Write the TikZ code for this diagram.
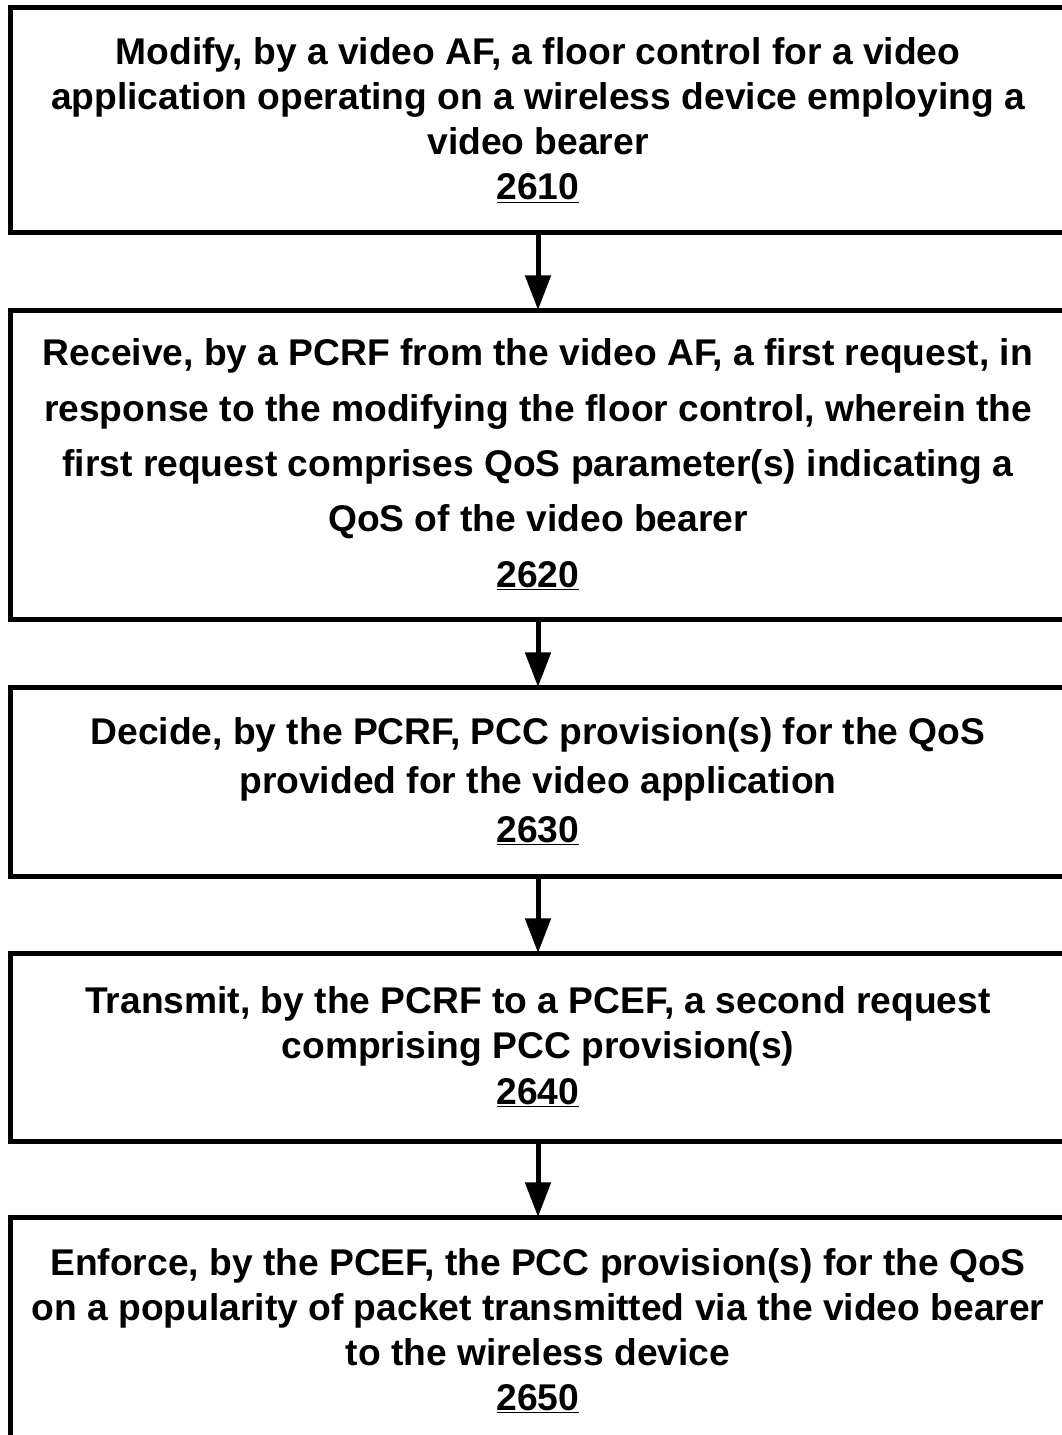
\documentclass[tikz,border=0pt]{standalone}
\usepackage{fontspec}
\setmainfont{Liberation Sans}
\usetikzlibrary{arrows.meta}
\begin{document}
\begin{tikzpicture}[x=0.75pt,y=0.75pt,
  stepbox/.style={draw, line width=3.75pt, rectangle, minimum width=792pt,
    outer sep=0pt, inner sep=0pt, align=center, anchor=north,
    font=\bfseries\fontsize{27.9pt}{33.75pt}\selectfont},
  flow/.style={line width=3.75pt, -{Triangle[width=18.75pt,length=26pt]}}]
\useasboundingbox (0,0) rectangle (1061,-1435);
\node[stepbox, minimum height=169.1pt] (b1) at (538,-7.5)
  {Modify, by a video AF, a floor control for a video\\
   application operating on a wireless device employing a\\
   video bearer\\
   \underline{2610}};
\node[stepbox, minimum height=231.75pt,
  font=\bfseries\fontsize{27.9pt}{41.6pt}\selectfont] (b2) at (538,-310)
  {Receive, by a PCRF from the video AF, a first request, in\\
   response to the modifying the floor control, wherein the\\
   first request comprises QoS parameter(s) indicating a\\
   QoS of the video bearer\\
   \underline{2620}};
\node[stepbox, minimum height=141.75pt,
  font=\bfseries\fontsize{27.9pt}{36.5pt}\selectfont] (b3) at (538,-687)
  {Decide, by the PCRF, PCC provision(s) for the QoS\\
   provided for the video application\\
   \underline{2630}};
\node[stepbox, minimum height=141pt,
  font=\bfseries\fontsize{27.9pt}{34pt}\selectfont] (b4) at (538,-953)
  {Transmit, by the PCRF to a PCEF, a second request\\
   comprising PCC provision(s)\\
   \underline{2640}};
\node[stepbox, minimum height=171pt] (b5) at (538,-1217)
  {Enforce, by the PCEF, the PCC provision(s) for the QoS\\
   on a popularity of packet transmitted via the video bearer\\
   to the wireless device\\
   \underline{2650}};
\draw[flow] (b1.south) -- (b2.north);
\draw[flow] (b2.south) -- (b3.north);
\draw[flow] (b3.south) -- (b4.north);
\draw[flow] (b4.south) -- (b5.north);
\end{tikzpicture}
\end{document}
